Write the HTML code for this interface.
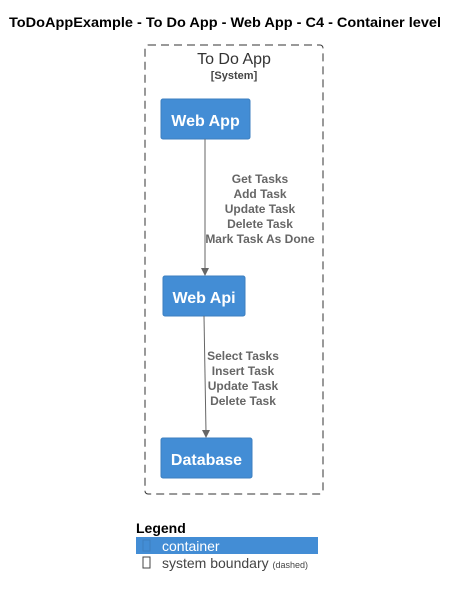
<!DOCTYPE html>
<html><head><meta charset="utf-8"><style>
body{margin:0;background:#fff;width:460px;height:597px;overflow:hidden}
</style></head><body>
<svg width="460" height="597" xmlns="http://www.w3.org/2000/svg" font-family="Liberation Sans, sans-serif">
<text x="9" y="27" font-size="14" font-weight="bold" fill="#000" textLength="432" lengthAdjust="spacingAndGlyphs">ToDoAppExample - To Do App - Web App - C4 - Container level</text>
<rect x="145" y="45" width="178" height="449" rx="3" fill="none" stroke="#333" stroke-dasharray="8,5"/>
<text x="234" y="64" font-size="16" fill="#333" text-anchor="middle">To Do App</text>
<text x="234" y="79" font-size="11" font-weight="bold" fill="#444" text-anchor="middle">[System]</text>
<rect x="161" y="99" width="89" height="40" rx="2" fill="#438dd5" stroke="#3c7fc0"/>
<text x="205.5" y="126" font-size="16" font-weight="bold" fill="#fff" text-anchor="middle">Web App</text>
<rect x="163" y="276" width="82" height="40" rx="2" fill="#438dd5" stroke="#3c7fc0"/>
<text x="204" y="303" font-size="16" font-weight="bold" fill="#fff" text-anchor="middle">Web Api</text>
<rect x="161" y="438" width="91" height="40" rx="2" fill="#438dd5" stroke="#3c7fc0"/>
<text x="206.5" y="465" font-size="16" font-weight="bold" fill="#fff" text-anchor="middle">Database</text>
<line x1="205" y1="139" x2="205" y2="270" stroke="#666"/>
<polygon points="201,268 209,268 205,276" fill="#666"/>
<line x1="204" y1="316" x2="206" y2="432" stroke="#666"/>
<polygon points="202,430 210,430 206,438" fill="#666"/>
<g font-size="12" font-weight="bold" fill="#666" text-anchor="middle">
<text x="260" y="183">Get Tasks</text><text x="260" y="198">Add Task</text><text x="260" y="213">Update Task</text><text x="260" y="228">Delete Task</text><text x="260" y="243">Mark Task As Done</text>
<text x="243" y="360">Select Tasks</text><text x="243" y="375">Insert Task</text><text x="243" y="390">Update Task</text><text x="243" y="405">Delete Task</text>
</g>
<text x="136" y="533" font-size="14" font-weight="bold" fill="#000">Legend</text>
<rect x="136" y="537" width="182" height="17" fill="#438dd5"/>
<rect x="143" y="540" width="7" height="11" fill="none" stroke="#3c7fc0" stroke-width="1"/>
<text x="162" y="551" font-size="14" fill="#fff">container</text>
<rect x="143" y="557" width="7" height="11" fill="none" stroke="#444" stroke-width="1"/>
<text x="162" y="568" font-size="14" fill="#444">system boundary <tspan font-size="9">(dashed)</tspan></text>
</svg>
</body></html>
